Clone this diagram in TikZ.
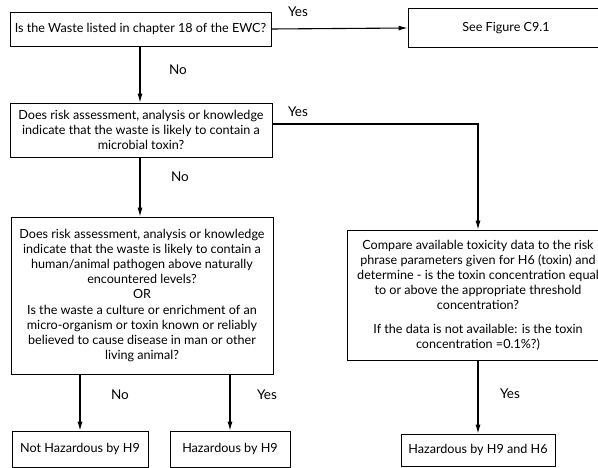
\documentclass[tikz,border=0pt]{standalone}
\usepackage{fontspec}
\setmainfont{Lato}
\usetikzlibrary{arrows.meta}
\begin{document}
\begin{tikzpicture}[x=1pt,y=-1pt,
  box/.style={draw, line width=0.8pt, align=center, inner sep=2pt,
              font=\fontsize{12.6}{15.2}\selectfont},
  lbl/.style={font=\fontsize{13.5}{15}\selectfont},
  flow/.style={line width=1.1pt, -{Latex[length=9pt,width=5pt]}}]
\useasboundingbox (0,0) rectangle (598,468);

% question boxes
\node[box, minimum width=261pt, minimum height=34pt] (q1) at (140.5,29)
  {Is the Waste listed in chapter 18 of the EWC?};
\node[box, minimum width=196pt, minimum height=39pt] (fig) at (506,28)
  {See Figure C9.1};
\node[box, minimum width=262pt, minimum height=54pt] (q2) at (141,130)
  {Does risk assessment, analysis or knowledge\\
   indicate that the waste is likely to contain a\\
   microbial toxin?};
\node[box, minimum width=262pt, minimum height=157pt] (q3) at (142,295.5)
  {Does risk assessment, analysis or knowledge\\
   indicate that the waste is likely to contain a\\
   human/animal pathogen above naturally\\
   encountered levels?\\
   OR\\
   Is the waste a culture or enrichment of an\\
   micro-organism or toxin known or reliably\\
   believed to cause disease in man or other\\
   living animal?};
\node[box, minimum width=262pt, minimum height=130pt] (q4) at (478,295)
  {Compare available toxicity data to the risk\\
   phrase parameters given for H6 (toxin) and\\
   determine - is the toxin concentration equal\\
   to or above the appropriate threshold\\
   concentration?\\[8pt]
   If the data is not available: is the toxin\\
   concentration =0.1\%?)};

% outcome boxes
\node[box, minimum width=136pt, minimum height=36pt] (r1) at (80,449)
  {Not Hazardous by H9};
\node[box, minimum width=120pt, minimum height=36pt] (r2) at (230,449)
  {Hazardous by H9};
\node[box, minimum width=154pt, minimum height=32pt] (r3) at (478,450)
  {Hazardous by H9 and H6};

% connectors
\draw[flow] (q1.east) -- (fig.west);
\draw[flow] (q1.south -| 140,0) -- (q2.north -| 140,0);
\draw[flow] (q2.east |- 0,124) -| (q4.north);
\draw[flow] (q2.south -| 140,0) -- (q3.north -| 140,0);
\draw[flow] (q3.south -| r1.north) -- (r1.north);
\draw[flow] (q3.south -| r2.north) -- (r2.north);
\draw[flow] (q4.south) -- (r3.north);

% branch labels
\node[lbl] (y1) at (298,12) {Yes};
\node[lbl] (n1) at (178,70) {No};
\node[lbl] (y2) at (298,112) {Yes};
\node[lbl] (n2) at (180,177) {No};
\node[lbl] (n3) at (120,395) {No};
\node[lbl] (y3) at (267,395) {Yes};
\node[lbl] (y4) at (510,394) {Yes};
\end{tikzpicture}
\end{document}
